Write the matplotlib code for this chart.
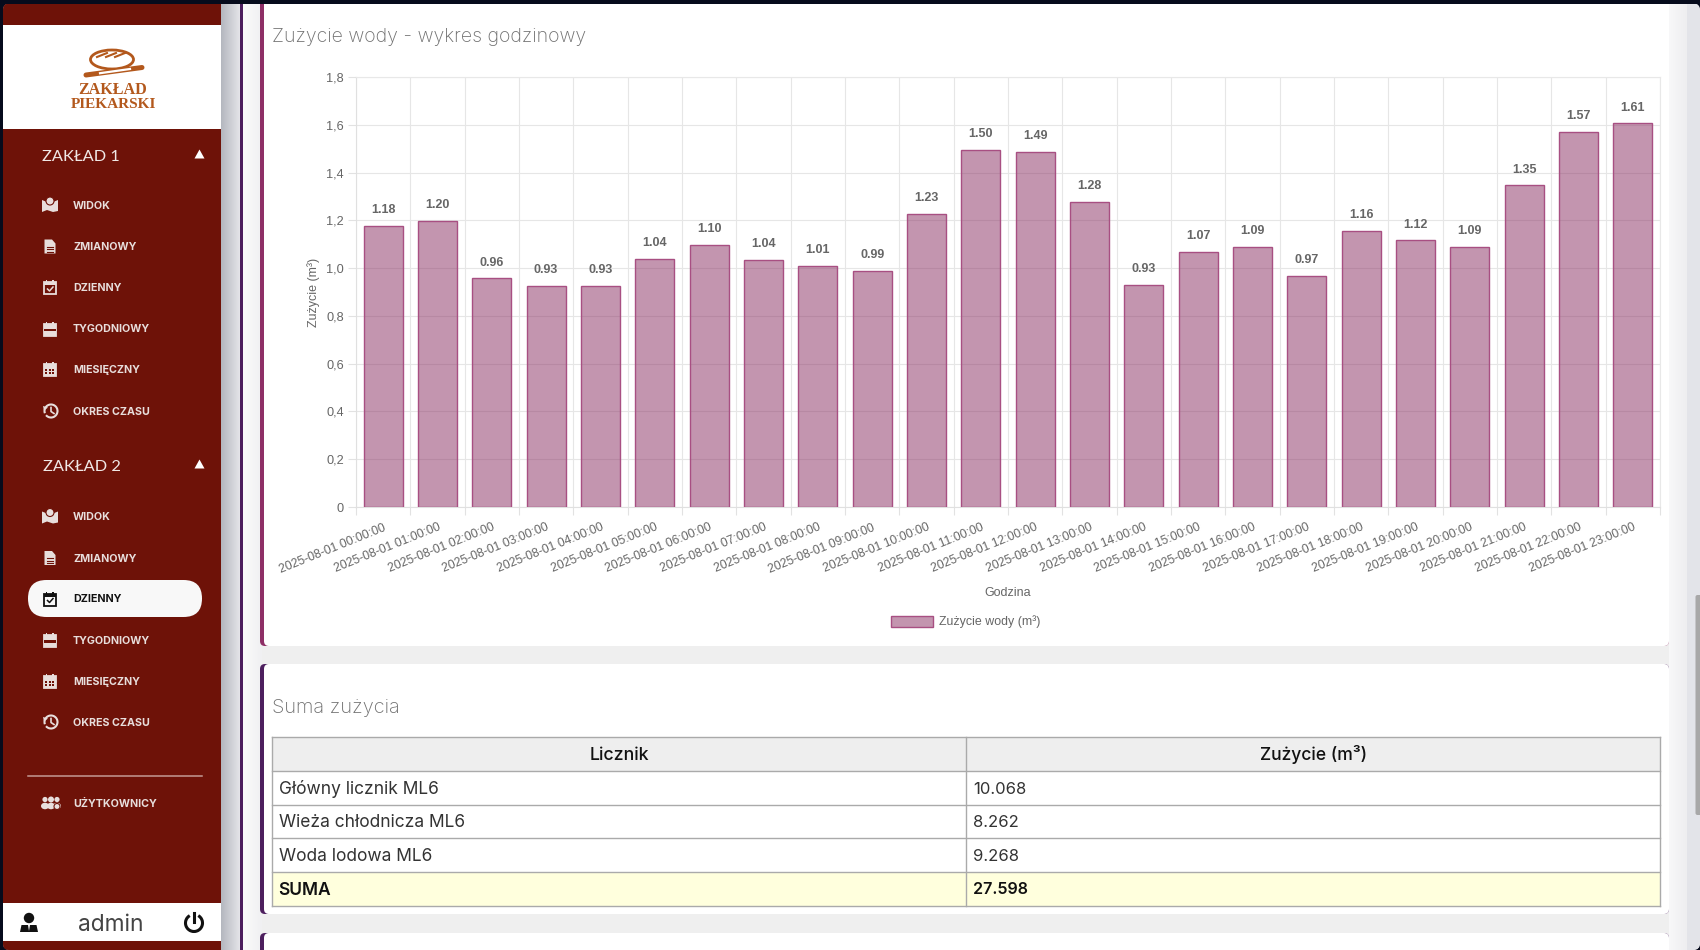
import matplotlib
matplotlib.use('Agg')
import matplotlib.pyplot as plt
from matplotlib.patches import Rectangle, FancyBboxPatch, Polygon, Ellipse, Circle, Arc
import numpy as np

hours = ['2025-08-01 %02d:00:00' % h for h in range(24)]
usage = [1.176, 1.197, 0.957, 0.926, 0.926, 1.039, 1.097, 1.036, 1.010, 0.987, 1.228, 1.496,
         1.486, 1.276, 0.928, 1.069, 1.088, 0.966, 1.156, 1.116, 1.088, 1.346, 1.570, 1.606]
y_ticks = [0, 0.2, 0.4, 0.6, 0.8, 1.0, 1.2, 1.4, 1.6, 1.8]
y_tick_labels = ['0', '0,2', '0,4', '0,6', '0,8', '1,0', '1,2', '1,4', '1,6', '1,8']

meters = ['Główny licznik ML6', 'Wieża chłodnicza ML6', 'Woda lodowa ML6']
meter_values = ['10.068', '8.262', '9.268']
total_label = 'SUMA'
total_value = '27.598'

menu_items = ['WIDOK', 'ZMIANOWY', 'DZIENNY', 'TYGODNIOWY', 'MIESIĘCZNY', 'OKRES CZASU']
menu_icons = ['map', 'doc', 'check', 'week', 'month', 'history']
menu_y_1 = [205, 246.5, 287, 328.5, 369, 411]
menu_y_2 = [516.5, 558, 598.5, 640, 681, 722]

RED = '#6e1208'
NAVY = '#060b1c'
MENU = '#e8dedc'
UI = 'Inter'
SANS = 'Liberation Sans'

W, H = 1700, 950
fig = plt.figure(figsize=(17, 9.5), dpi=100, facecolor=NAVY)

# page furniture, in pixels
bg = fig.add_axes([0, 0, 1, 1], zorder=0)
bg.set_xlim(0, W)
bg.set_ylim(H, 0)
bg.axis('off')


def box(x0, y0, x1, y1, color, z=1, **kw):
    bg.add_patch(Rectangle((x0, y0), x1 - x0, y1 - y0, facecolor=color, edgecolor='none', zorder=z, **kw))


def round_box(x0, y0, x1, y1, color, r=6, z=1, ec='none', lw=0):
    bg.add_patch(FancyBboxPatch((x0 + r, y0 + r), x1 - x0 - 2 * r, y1 - y0 - 2 * r,
                                boxstyle='round,pad=%f,rounding_size=%f' % (r, r),
                                facecolor=color, edgecolor=ec, linewidth=lw, zorder=z))


def gradient(x0, x1, y0, y1, c0, c1, z=2):
    c0 = np.array(matplotlib.colors.to_rgb(c0))
    c1 = np.array(matplotlib.colors.to_rgb(c1))
    t = np.linspace(0, 1, 40)[None, :, None]
    bg.imshow(c0 + (c1 - c0) * t, extent=[x0, x1, y1, y0], aspect='auto', zorder=z, interpolation='bilinear')
    bg.set_xlim(0, W)
    bg.set_ylim(H, 0)


# y is the middle of the capitals, so rows line up whatever the letters are
def label(x, y, s, size, color='#333333', family=UI, weight='normal', ha='left', z=6):
    bg.text(x, y + 0.5 * size, s, fontsize=size, color=color, family=family, weight=weight,
            ha=ha, va='baseline', zorder=z)


def draw_icon(kind, cx, cy, c, z=6):
    if kind == 'map':
        bg.add_patch(Polygon([(cx - 8, cy - 5), (cx - 3, cy - 3), (cx + 3, cy - 3), (cx + 8, cy - 5),
                              (cx + 8, cy + 6), (cx + 3, cy + 7), (cx - 3, cy + 5), (cx - 8, cy + 7)],
                             facecolor=c, zorder=z))
        bg.add_patch(Circle((cx, cy - 4), 4, facecolor=c, edgecolor=RED, linewidth=0.8, zorder=z + 1))
    elif kind == 'doc':
        bg.add_patch(Polygon([(cx - 5.5, cy - 7), (cx + 2, cy - 7), (cx + 5.5, cy - 3), (cx + 5.5, cy + 7), (cx - 5.5, cy + 7)],
                             facecolor=c, zorder=z))
        for dy in [0, 2.5, 5]:
            bg.plot([cx - 3, cx + 3], [cy + dy, cy + dy], color=RED, lw=0.8, zorder=z + 1)
    elif kind in ['check', 'week', 'month']:
        bg.add_patch(Rectangle((cx - 6, cy - 5), 12, 12, facecolor='none' if kind == 'check' else c,
                               edgecolor=c, linewidth=1.3, zorder=z))
        box(cx - 6, cy - 5, cx + 6, cy - 2, c, z=z)
        box(cx - 4, cy - 7, cx - 2.5, cy - 3, c, z=z)
        box(cx + 2.5, cy - 7, cx + 4, cy - 3, c, z=z)
        if kind == 'check':
            bg.plot([cx - 2.5, cx - 0.5, cx + 3], [cy + 2, cy + 4, cy], color=c, lw=1.1, zorder=z + 1)
        elif kind == 'week':
            box(cx - 6, cy + 0, cx + 6, cy + 2.5, RED, z=z + 1)
        else:
            for dx in [-3.5, 0, 3.5]:
                for dy in [0.5, 4]:
                    box(cx + dx - 1, cy + dy - 1, cx + dx + 1, cy + dy + 1, RED, z=z + 1)
    elif kind == 'history':
        bg.add_patch(Arc((cx + 1, cy), 13, 13, theta1=-200, theta2=140, color=c, lw=1.5, zorder=z))
        bg.plot([cx + 1, cx + 1, cx + 4], [cy - 3.5, cy + 0.5, cy + 2.5], color=c, lw=1.2, zorder=z)
        bg.add_patch(Polygon([(cx - 7, cy - 5), (cx - 2, cy - 3.5), (cx - 6, cy - 0.5)], facecolor=c, zorder=z))
    elif kind == 'users':
        for dx, r in [(-6, 2.6), (0, 3), (6, 2.6)]:
            bg.add_patch(Circle((cx + dx, cy - 3.5), r, facecolor=c, zorder=z))
            bg.add_patch(Ellipse((cx + dx, cy + 3), 8, 6.5, facecolor=c, zorder=z))
        bg.add_patch(Circle((cx + 6, cy + 3.5), 3, facecolor=c, edgecolor=RED, linewidth=0.8, zorder=z + 1))


# main frame with rounded outer corners, scrollbar track under everything else
round_box(3, 3.5, W, H, '#efefef', r=7, z=1)
round_box(1678, 3.5, W, H, '#e3e4e9', r=7, z=1.5)

# gutters
gradient(221, 240, 3.5, H, '#b4b7bf', '#e4e4e8')
box(240, 3.5, 243.5, H, '#4d1f5e', z=3)
gradient(243.5, 262, 3.5, H, '#fbfbfb', '#f0f0f2')
gradient(1669, 1687, 3.5, H, '#f8f8f9', '#eeeef0')

# scrollbar thumb
round_box(1695.5, 595, W + 2, 815, '#a8a8a8', r=2, z=3)

# cards
for top, bottom, col in [(-10, 646, '#8e2f66'), (664, 914, '#4d1f5e'), (933, H + 30, '#4d1f5e')]:
    round_box(260, top, 1669, bottom, col, r=5, z=3)
    round_box(264, top, 1669, bottom, '#ffffff', r=5, z=3.5)
box(0, 0, W, 3.5, NAVY, z=5)

# sidebar
round_box(3, 3.5, 221, H, RED, r=6, z=4)
box(100, 3.5, 221, H, RED, z=4)
box(3, 24.5, 221, 129, '#ffffff', z=5)
box(3, 903, 221, 941, '#ffffff', z=5)

# logo
LOGO = '#b3581c'
bg.add_patch(Ellipse((112, 59.5), 43, 19, facecolor='#ffffff', edgecolor=LOGO, linewidth=2, zorder=6))
for dx in [-10, -1, 8]:
    bg.plot([112 + dx - 5, 112 + dx + 5], [57, 53], color=LOGO, lw=1.5, zorder=7)
bg.plot([86, 142], [75, 67.5], color=LOGO, lw=3.6, solid_capstyle='round', zorder=6)
bg.plot([100, 130], [73.2, 69], color='#ffffff', lw=1.6, zorder=7)
label(113, 88, 'ZAKŁAD', 11.6, color=LOGO, family='Liberation Serif', weight='bold', ha='center')
label(113, 102.5, 'PIEKARSKI', 11.0, color=LOGO, family='Liberation Serif', weight='bold', ha='center')

# menu
for title, ty, ys in [('ZAKŁAD 1', 155, menu_y_1), ('ZAKŁAD 2', 465, menu_y_2)]:
    label(42 if ty == 155 else 43.5, ty, title, 11.8, color='#f0e8e6', family='Lato')
    bg.add_patch(Polygon([(194.5, ty + 3.5), (204.5, ty + 3.5), (199.5, ty - 5.5)], facecolor='#ffffff', zorder=6))
    for name, icon, y in zip(menu_items, menu_icons, ys):
        active = ty == 465 and name == 'DZIENNY'
        if active:
            round_box(28, y - 18.5, 202, y + 18.5, '#f8f8f8', r=18.4, z=5)
        c = '#111111' if active else MENU
        draw_icon(icon, 50, y, c)
        label(73, y, name, 7.7, color=c, weight='bold')

bg.plot([28, 202], [775.5, 775.5], color='#c49a94', lw=1.1, zorder=6)
draw_icon('users', 51, 803, MENU)
label(73, 803, 'UŻYTKOWNICY', 7.7, color=MENU, weight='bold')

# footer
bg.add_patch(Circle((29, 918), 5.2, facecolor='#111111', zorder=6))
bg.add_patch(Polygon([(20, 932), (21.5, 925), (36.5, 925), (38, 932)], facecolor='#111111', zorder=6))
bg.add_patch(Polygon([(28, 925), (30, 925), (29, 931)], facecolor='#ffffff', zorder=7))
label(110.5, 923, 'admin', 16.4, color='#444444', ha='center')
bg.add_patch(Arc((194, 923), 17, 17, theta1=-60, theta2=240, color='#111111', lw=2.2, zorder=6))
bg.plot([194, 194], [913, 922], color='#111111', lw=2.2, zorder=6)

# titles
label(272, 35, 'Zużycie wody - wykres godzinowy', 14.1, color='#707070', weight='light')
label(272, 705.5, 'Suma zużycia', 14.4, color='#707070', weight='light')

# table
T_L, T_M, T_R = 272.5, 966.5, 1660
rows_y = [737, 770.5, 804.5, 838, 871.5, 905.5]
box(T_L, rows_y[0], T_R, rows_y[1], '#eeeeee', z=4)
box(T_L, rows_y[4], T_R, rows_y[5], '#ffffdd', z=4)
for y in rows_y:
    bg.plot([T_L, T_R], [y, y], color='#aaaaaa', lw=1.0, zorder=5)
for x in [T_L, T_M, T_R]:
    bg.plot([x, x], [rows_y[0], rows_y[-1]], color='#aaaaaa', lw=1.0, zorder=5)
label((T_L + T_M) / 2, 754, 'Licznik', 12.8, color='#111111', weight='medium', ha='center')
label((T_M + T_R) / 2, 754, 'Zużycie (m³)', 12.6, color='#111111', weight='medium', ha='center')
for name, val, y in zip(meters, meter_values, [788, 821, 855]):
    label(279, y, name, 12.5)
    label(973, y, val, 12.0)
label(278.5, 888.5, total_label, 12.5, color='#111111', weight='semibold')
label(973, 888.5, total_value, 11.6, color='#111111', weight='semibold')

# the chart itself
ax = fig.add_axes([356 / W, 1 - 507 / H, (1660 - 356) / W, (507 - 77) / H], zorder=2)
ax.patch.set_alpha(0)
x = np.arange(len(hours))
bars = ax.bar(x, usage, width=0.715, facecolor=(0.537, 0.176, 0.38, 0.5), edgecolor='#a84f82',
              linewidth=1.0, label='Zużycie wody (m³)', zorder=3)
for xi, v in zip(x, usage):
    ax.annotate('%.2f' % v, (xi, v), xytext=(0, 11.4), textcoords='offset points', ha='center', va='center',
                fontsize=9, weight='bold', color='#666666', family=SANS, zorder=4)

ax.set_xlim(-0.5, len(hours) - 0.5)
ax.set_ylim(0, 1.8)
ax.set_yticks(y_ticks, y_tick_labels)
ax.set_xticks(x, hours)
ax.set_xticks(np.arange(len(hours) + 1) - 0.5, minor=True)
ax.tick_params(axis='x', which='major', length=0, pad=10.5, labelsize=8.85, labelcolor='#666666')
ax.tick_params(axis='x', which='minor', length=5.8, width=0.8, color='#e2e2e2')
ax.tick_params(axis='y', length=5.8, width=0.8, color='#e2e2e2', pad=3, labelsize=9.2, labelcolor='#666666')
for t in ax.get_xticklabels():
    t.set_family(SANS)
    t.set_rotation(22)
    t.set_ha('right')
    t.set_rotation_mode('anchor')
for t in ax.get_yticklabels():
    t.set_family(SANS)
ax.grid(True, which='minor', axis='x', color='#e6e6e6', lw=0.8, zorder=1)
ax.grid(True, which='major', axis='y', color='#e6e6e6', lw=0.8, zorder=1)
ax.grid(False, which='major', axis='x')
for side, s in ax.spines.items():
    s.set_color('#e0e0e0')
    s.set_linewidth(0.8)
for side in ['top', 'right']:
    ax.spines[side].set_color('#e8e8e8')

fig.text(314 / W, 1 - 292 / H, 'Zużycie (m³)', rotation=90, ha='center', va='center', fontsize=9, color='#666666', family=SANS)
fig.text(1008 / W, 1 - 593 / H, 'Godzina', ha='center', va='center', fontsize=9, color='#666666', family=SANS)

leg = ax.legend(loc='center', bbox_to_anchor=(966 / W, 1 - 622 / H), bbox_transform=fig.transFigure, frameon=False,
                handlelength=3.4, handleheight=1.0, handletextpad=0.5, labelcolor='#666666',
                prop={'family': SANS, 'size': 8.9})

fig.savefig('out.png', dpi=100, facecolor=fig.get_facecolor())
